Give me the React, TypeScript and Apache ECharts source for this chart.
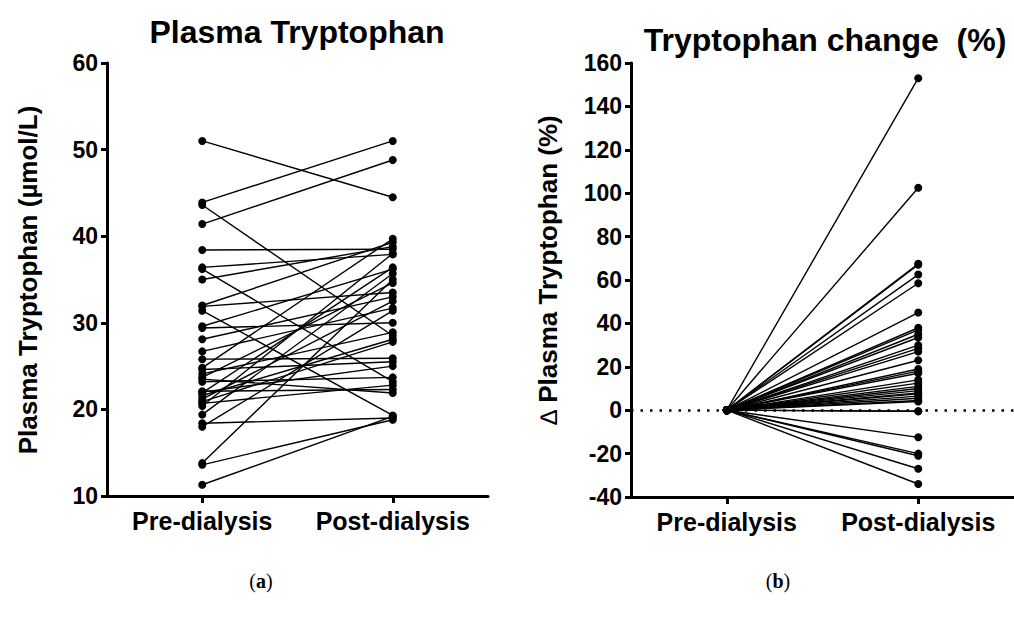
import React, { useEffect, useRef } from "react";
import * as echarts from "echarts";

const categories = ["Pre-dialysis", "Post-dialysis"];

// Panel (a): plasma tryptophan (µmol/L), pre and post for each subject
const preValues = [
  51.0, 43.9, 43.6, 41.4, 38.4, 36.4, 36.2, 35.0, 32.0, 31.9, 31.4, 29.6,
  29.4, 28.1, 26.7, 25.8, 24.8, 24.6, 24.1, 23.7, 23.2, 22.1, 21.9, 21.6,
  21.2, 20.7, 20.4, 19.4, 18.4, 18.0, 13.8, 13.6, 11.3, 22.0, 20.9, 23.5,
];
const postValues = [
  44.5, 51.0, 28.5, 48.8, 38.5, 37.9, 23.2, 38.8, 39.3, 33.5, 19.3, 36.2,
  30.0, 33.0, 31.7, 25.9, 39.7, 25.5, 28.9, 34.6, 23.7, 22.3, 36.4, 28.1,
  32.5, 22.8, 38.0, 35.7, 19.0, 31.4, 35.0, 18.8, 19.2, 25.0, 27.8, 21.9,
];

// Panel (b): percent change in plasma tryptophan
const pctChange = [
  153, 102.5, 67.5, 67, 62.5, 58.5, 45, 38, 37, 35, 33.5, 30, 28.5, 27, 23,
  19, 18, 17, 14, 12.5, 11, 10, 9, 8, 7.5, 6.5, 5.5, 4.5, 4, -0.5, -0.5,
  -12.5, -20, -21, -27, -34,
];

const leftTicks = { min: 10, max: 60, interval: 10 };
const rightTicks = { min: -40, max: 160, interval: 20 };
const zeroLine = [0];

const FONT = "Liberation Sans, Arial, sans-serif";

export default function App() {
  const ref = useRef<HTMLDivElement>(null);

  useEffect(() => {
    if (!ref.current) return;
    const chart = echarts.init(ref.current, undefined, { renderer: "svg" });

    const xAxisCommon = {
      type: "category",
      data: categories,
      boundaryGap: true,
      axisLine: { show: true, onZero: false, lineStyle: { color: "#000", width: 3 } },
      axisTick: {
        show: true,
        interval: 0,
        alignWithLabel: true,
        length: 7,
        lineStyle: { color: "#000", width: 3 },
      },
      axisLabel: {
        interval: 0,
        color: "#000",
        fontSize: 25,
        fontWeight: "bold",
        fontFamily: FONT,
        margin: 12,
      },
      splitLine: { show: false },
    };
    const yAxisCommon = {
      type: "value",
      axisLine: { show: true, onZero: false, lineStyle: { color: "#000", width: 3 } },
      axisTick: {
        show: true,
        length: 6,
        lineStyle: { color: "#000", width: 3 },
      },
      axisLabel: {
        color: "#000",
        fontSize: 23,
        fontWeight: "bold",
        fontFamily: FONT,
        margin: 9,
      },
      splitLine: { show: false },
    };

    const series: any[] = [];
    preValues.forEach((p, i) => {
      series.push({
        type: "line",
        xAxisIndex: 0,
        yAxisIndex: 0,
        data: [p, postValues[i]],
        symbol: "circle",
        symbolSize: 8,
        lineStyle: { color: "#000", width: 1.4 },
        itemStyle: { color: "#000" },
        z: 3,
      });
    });
    pctChange.forEach((v) => {
      series.push({
        type: "line",
        xAxisIndex: 1,
        yAxisIndex: 1,
        data: [0, v],
        symbol: "circle",
        symbolSize: 8,
        lineStyle: { color: "#000", width: 1.4 },
        itemStyle: { color: "#000" },
        z: 3,
      });
    });
    series.push({
      type: "line",
      xAxisIndex: 1,
      yAxisIndex: 1,
      data: [],
      symbol: "none",
      z: 1,
      markLine: {
        silent: true,
        symbol: ["none", "none"],
        label: { show: false },
        lineStyle: { color: "#000", width: 2.5, type: [2.5, 7] },
        emphasis: { disabled: true },
        data: zeroLine.map((v) => ({ yAxis: v })),
      },
    });

    const serifRich = {
      p: { fontFamily: "Liberation Serif, serif", fontSize: 20, fill: "#000" },
      b: {
        fontFamily: "Liberation Serif, serif",
        fontSize: 20,
        fontWeight: "bold",
        fill: "#000",
      },
    };

    chart.setOption({
      animation: false,
      backgroundColor: "#fff",
      grid: [
        { left: 107, top: 63, width: 381, height: 433 },
        { left: 631, top: 63, width: 392, height: 434 },
      ],
      xAxis: [
        { ...xAxisCommon, gridIndex: 0 },
        { ...xAxisCommon, gridIndex: 1 },
      ],
      yAxis: [
        { ...yAxisCommon, gridIndex: 0, ...leftTicks },
        { ...yAxisCommon, gridIndex: 1, ...rightTicks },
      ],
      series,
      graphic: [
        {
          type: "text",
          x: 297,
          y: 32,
          style: {
            text: "Plasma Tryptophan",
            fontSize: 32,
            fontWeight: "bold",
            fontFamily: FONT,
            fill: "#000",
            align: "center",
            verticalAlign: "middle",
          },
        },
        {
          type: "text",
          x: 825,
          y: 40,
          style: {
            text: "Tryptophan change  (%)",
            fontSize: 32,
            fontWeight: "bold",
            fontFamily: FONT,
            fill: "#000",
            align: "center",
            verticalAlign: "middle",
          },
        },
        {
          type: "text",
          x: 28,
          y: 280,
          rotation: Math.PI / 2,
          style: {
            text: "Plasma Tryptophan (µmol/L)",
            fontSize: 26,
            fontWeight: "bold",
            fontFamily: FONT,
            fill: "#000",
            align: "center",
            verticalAlign: "middle",
          },
        },
        {
          type: "text",
          x: 548,
          y: 270,
          rotation: Math.PI / 2,
          style: {
            text: "{d|∆} Plasma Tryptophan (%)",
            fontSize: 26,
            fontWeight: "bold",
            fontFamily: FONT,
            fill: "#000",
            align: "center",
            verticalAlign: "middle",
            rich: {
              d: { fontSize: 24, fontWeight: "normal", fontFamily: FONT, fill: "#000" },
            },
          },
        },
        {
          type: "text",
          x: 261,
          y: 581,
          style: {
            text: "{p|(}{b|a}{p|)}",
            rich: serifRich,
            align: "center",
            verticalAlign: "middle",
          },
        },
        {
          type: "text",
          x: 778,
          y: 581,
          style: {
            text: "{p|(}{b|b}{p|)}",
            rich: serifRich,
            align: "center",
            verticalAlign: "middle",
          },
        },
      ],
    });

    return () => chart.dispose();
  }, []);

  return (
    <div
      ref={ref}
      style={{
        position: "fixed",
        left: 0,
        top: 0,
        width: 1014,
        height: 619,
        background: "#fff",
      }}
    />
  );
}
